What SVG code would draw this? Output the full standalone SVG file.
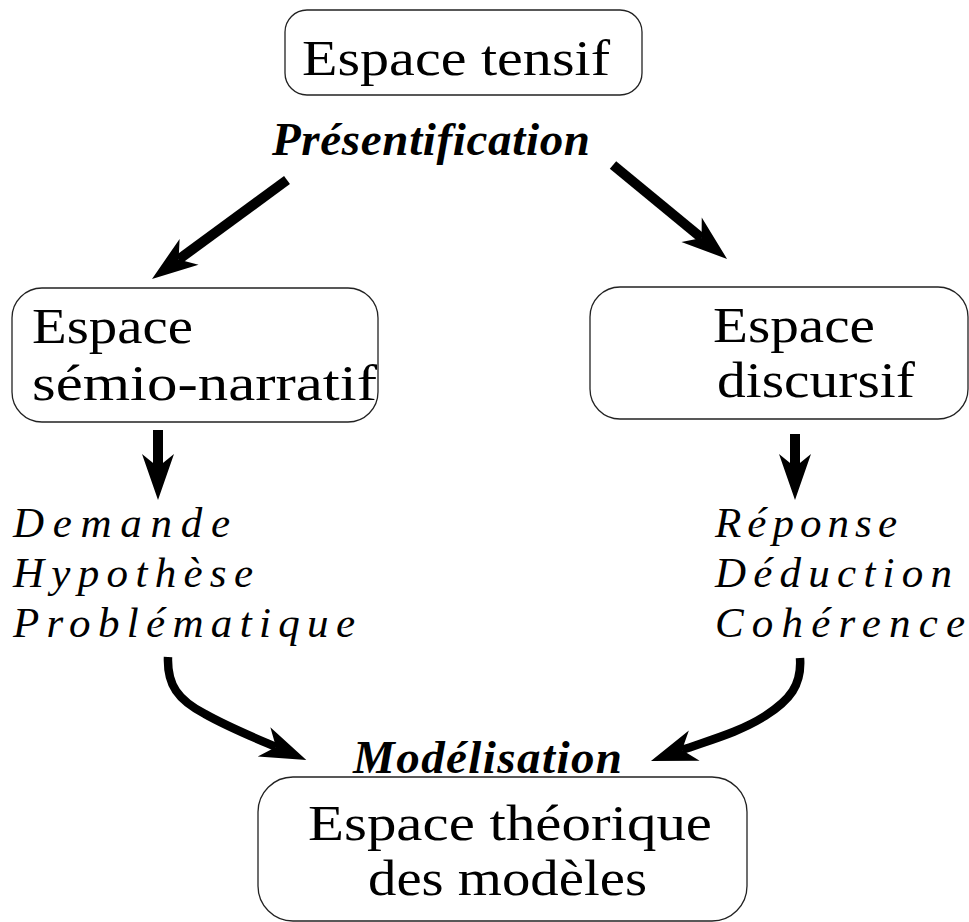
<svg xmlns="http://www.w3.org/2000/svg" width="969" height="922" viewBox="0 0 969 922">
  <style>
    .box { fill: #ffffff; stroke: #222222; stroke-width: 1.3; }
    .label { font-family: "Liberation Serif", "Times New Roman", serif; font-size: 50px; fill: #000000; }
    .term { font-family: "Liberation Serif", "Times New Roman", serif; font-size: 43px; font-style: italic; fill: #000000; }
    .phase { font-family: "Liberation Serif", "Times New Roman", serif; font-size: 47px; font-style: italic; font-weight: bold; fill: #000000; }
    .edge { fill: none; stroke: #000000; stroke-width: 10; stroke-linecap: butt; }
    .edge.curved { stroke-width: 8.5; }
  </style>
  <defs>
    <marker id="head" markerUnits="userSpaceOnUse" markerWidth="50" markerHeight="36" viewBox="0 -18 48 36" refX="13" refY="0" orient="auto">
      <path d="M0,-16 L46,0 L0,16 L13,0 Z" fill="#000000"/>
    </marker>
  </defs>

  <rect width="969" height="922" fill="#ffffff"/>

  <!-- connectors -->
  <g id="connectors">
    <path class="edge" d="M287,180 L178.6,259.5" marker-end="url(#head)"/>
    <path class="edge" d="M613,165 L701.6,238" marker-end="url(#head)"/>
    <path class="edge" d="M158,430 L158,467" marker-end="url(#head)"/>
    <path class="edge" d="M795,434 L795,467" marker-end="url(#head)"/>
    <path class="edge curved" d="M168,657 C167,685 178,700 205,714 C228,727 255,738 276,747" marker-end="url(#head)"/>
    <path class="edge curved" d="M800,658 C802,685 790,700 765,716 C740,732 710,740 682,750" marker-end="url(#head)"/>
  </g>

  <!-- nodes -->
  <g id="tensif">
    <rect class="box" x="285" y="10" width="357" height="85" rx="22"/>
    <text class="label" x="302" y="75" textLength="308" lengthAdjust="spacingAndGlyphs">Espace tensif</text>
  </g>

  <g id="presentification">
    <text class="phase" x="272" y="155" textLength="318" lengthAdjust="spacing">Présentification</text>
  </g>

  <g id="semio-narratif">
    <rect class="box" x="12" y="288" width="366" height="134" rx="30"/>
    <text class="label" x="32" y="343" textLength="161" lengthAdjust="spacingAndGlyphs">Espace</text>
    <text class="label" x="32" y="400" textLength="345" lengthAdjust="spacingAndGlyphs">sémio-narratif</text>
  </g>

  <g id="discursif">
    <rect class="box" x="590" y="287" width="378" height="132" rx="30"/>
    <text class="label" x="713" y="342" textLength="162" lengthAdjust="spacingAndGlyphs">Espace</text>
    <text class="label" x="717" y="397" textLength="198" lengthAdjust="spacingAndGlyphs">discursif</text>
  </g>

  <g id="termes-semio">
    <text class="term" x="13" y="537" textLength="217" lengthAdjust="spacing">Demande</text>
    <text class="term" x="13" y="587" textLength="240" lengthAdjust="spacing">Hypothèse</text>
    <text class="term" x="13" y="637" textLength="342" lengthAdjust="spacing">Problématique</text>
  </g>

  <g id="termes-discursif">
    <text class="term" x="715" y="537" textLength="182" lengthAdjust="spacing">Réponse</text>
    <text class="term" x="715" y="587" textLength="237" lengthAdjust="spacing">Déduction</text>
    <text class="term" x="715" y="637" textLength="250" lengthAdjust="spacing">Cohérence</text>
  </g>

  <g id="modelisation">
    <text class="phase" x="353" y="773" textLength="269" lengthAdjust="spacing">Modélisation</text>
  </g>

  <g id="theorique">
    <rect class="box" x="258" y="777" width="489" height="144" rx="35"/>
    <text class="label" x="308" y="840" textLength="404" lengthAdjust="spacingAndGlyphs">Espace théorique</text>
    <text class="label" x="368" y="895" textLength="279" lengthAdjust="spacingAndGlyphs">des modèles</text>
  </g>
</svg>
